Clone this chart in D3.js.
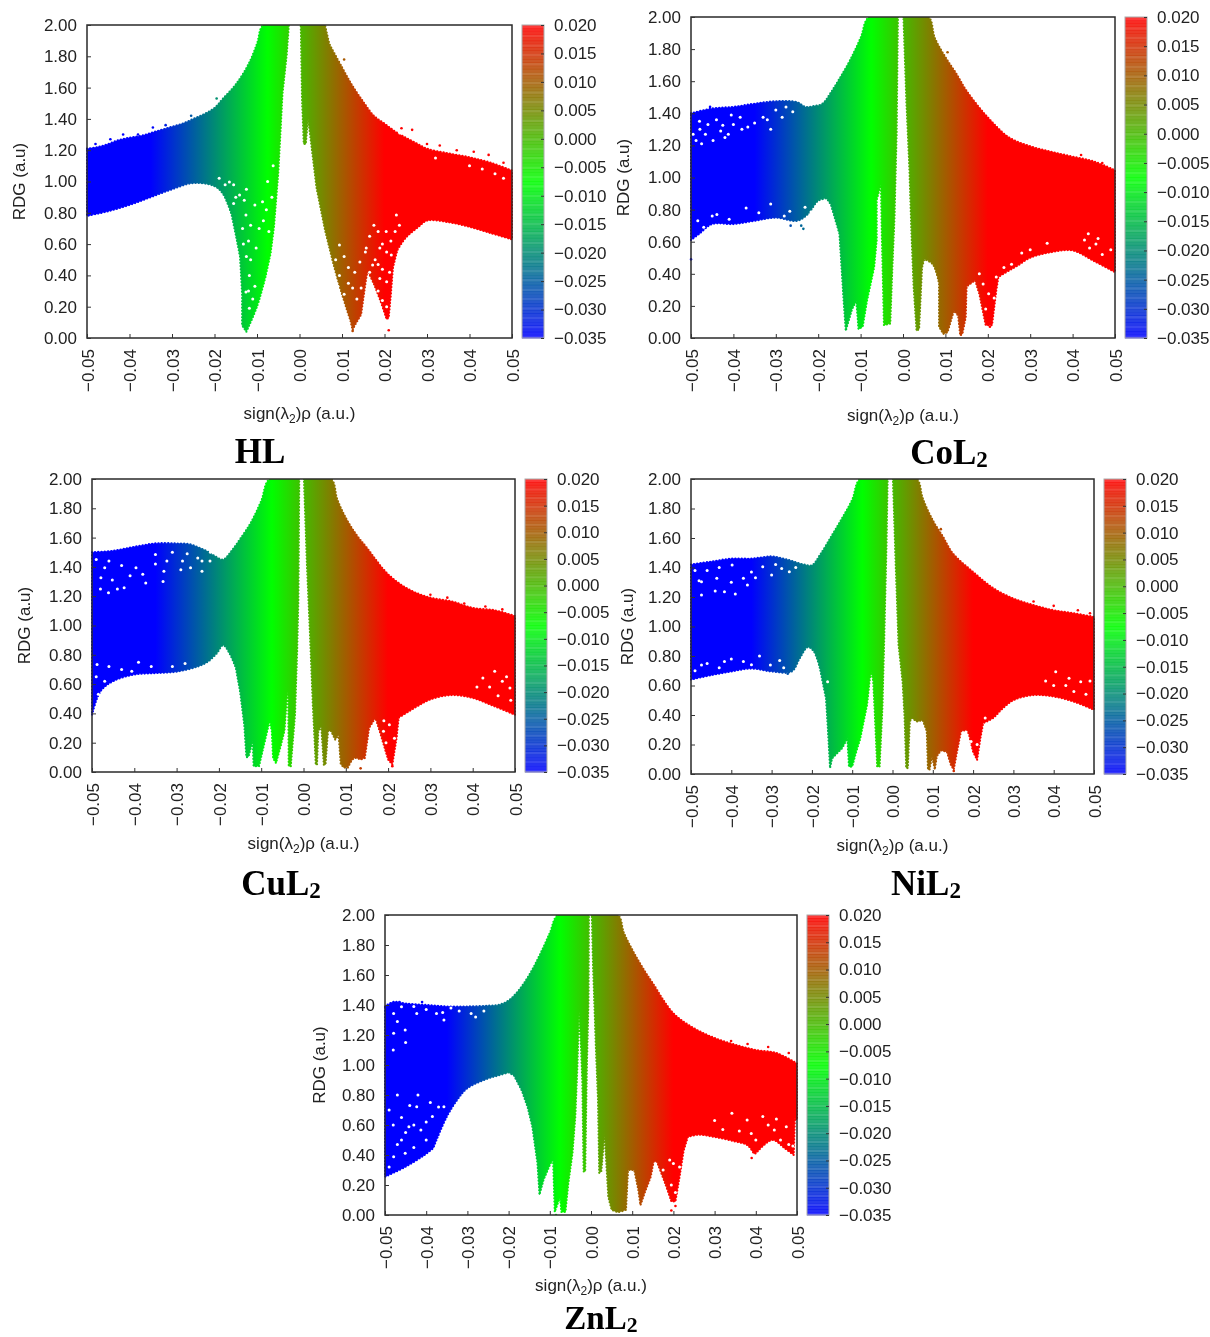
<!DOCTYPE html>
<html><head><meta charset="utf-8">
<script src="https://cdnjs.cloudflare.com/ajax/libs/d3/7.8.5/d3.min.js"></script>
<style>html,body{margin:0;padding:0;background:#fff}svg{display:block;filter:blur(.35px)}
text{fill:#222;font-family:"Liberation Sans",Arial,sans-serif}
.ttl{font-family:"Liberation Serif","Times New Roman",serif;font-weight:700;fill:#000}
</style></head><body><svg id="c" width="1210" height="1337"></svg>
<script>
const xTicks=[-0.05,-0.04,-0.03,-0.02,-0.01,0,0.01,0.02,0.03,0.04,0.05];
const yTicks=[0,0.2,0.4,0.6,0.8,1,1.2,1.4,1.6,1.8,2];
const barTicks=[-0.035,-0.03,-0.025,-0.02,-0.015,-0.01,-0.005,0,0.005,0.01,0.015,0.02];
const colorDomain=[-0.035,-0.0075,0.02];
const colorRange=["#0000ff","#00ff00","#ff0000"];

const hlLeft=[[-0.05,1.21],[-0.0475,1.22],[-0.045,1.24],[-0.0425,1.265],[-0.04,1.28],[-0.0375,1.29],[-0.035,1.31],[-0.0325,1.33],[-0.03,1.35],[-0.0275,1.37],[-0.025,1.40],[-0.0225,1.43],[-0.02,1.47],[-0.018,1.53],[-0.015,1.62],[-0.012,1.75],[-0.01,1.88],[-0.0085,2],[-0.0025,2],[-0.003,1.81],[-0.004,1.56],[-0.0045,1.30],[-0.005,1.05],[-0.0055,0.88],[-0.006,0.71],[-0.0068,0.54],[-0.008,0.39],[-0.01,0.2],[-0.0125,0.04],[-0.0135,0.08],[-0.0135,0.28],[-0.014,0.52],[-0.015,0.66],[-0.016,0.79],[-0.018,0.92],[-0.02,0.97],[-0.025,0.99],[-0.03,0.95],[-0.035,0.90],[-0.04,0.85],[-0.045,0.81],[-0.05,0.78]];
const hlRight=[[0.0003,2],[0.006,2],[0.007,1.88],[0.01,1.73],[0.0125,1.61],[0.015,1.51],[0.0175,1.42],[0.02,1.37],[0.0225,1.32],[0.025,1.28],[0.0275,1.245],[0.03,1.21],[0.035,1.18],[0.04,1.155],[0.045,1.12],[0.05,1.07],[0.05,0.63],[0.045,0.67],[0.04,0.71],[0.035,0.74],[0.03,0.75],[0.028,0.71],[0.025,0.64],[0.023,0.56],[0.022,0.45],[0.0215,0.28],[0.021,0.13],[0.0205,0.12],[0.019,0.24],[0.0175,0.345],[0.016,0.43],[0.0155,0.345],[0.0145,0.15],[0.013,0.08],[0.0125,0.05],[0.012,0.11],[0.01,0.28],[0.008,0.47],[0.006,0.69],[0.004,0.96],[0.002,1.41],[0.0015,1.24],[0.001,1.24],[0.0006,1.52]];
const hlHoles=[[0.0094,0.594],[0.0094,0.40],[0.0204,0.68],[0.0189,0.575],[0.0172,0.466],[0.0216,0.53],[0.0189,0.38],[0.0157,0.575],[0.0125,0.32],[0.0142,0.485],[0.0228,0.786],[0.0236,1.31],[-0.0126,0.786],[-0.0141,0.914],[-0.0102,0.575],[-0.0118,0.40],[-0.0134,0.70],[-0.0087,0.87],[-0.0165,0.997],[-0.0189,1.02],[-0.0126,0.294],[-0.0118,0.19],[0.043,1.08],[0.046,1.05],[0.048,1.02],[0.04,1.1],[0.032,1.15],[0.0085,0.5],[0.0105,0.52],[0.0115,0.45],[0.009,0.33],[0.0105,0.28],[0.0115,0.35],[0.013,0.42],[0.0135,0.25],[0.0145,0.32],[0.0155,0.55],[0.0165,0.65],[0.0175,0.72],[0.0185,0.68],[0.0195,0.6],[0.0205,0.55],[0.0215,0.62],[0.0178,0.5],[0.0165,0.42],[0.0185,0.3],[0.0195,0.44],[0.0205,0.36],[0.0212,0.42],[0.0195,0.24],[0.0205,0.2],[0.0185,0.47],[0.0225,0.68],[0.0235,0.72],[-0.012,0.62],[-0.0115,0.5],[-0.0125,0.52],[-0.0105,0.33],[-0.011,0.25],[-0.012,0.3],[-0.0132,0.6],[-0.0115,0.72],[-0.0095,0.7],[-0.0085,0.75],[-0.0078,0.82],[-0.0072,0.68],[-0.0065,0.9],[-0.0105,0.85],[-0.013,0.88],[-0.015,0.9],[-0.0155,0.86],[-0.0175,0.98],[-0.0155,0.98],[-0.0125,0.95],[-0.0075,1.0],[-0.0062,1.1]];
const hlStrays=[[-0.048,1.24],[-0.0445,1.27],[-0.0415,1.3],[-0.038,1.3],[-0.0345,1.345],[-0.0315,1.36],[-0.0255,1.42],[-0.0195,1.53],[0.024,1.34],[0.0265,1.33],[0.03,1.24],[0.033,1.23],[0.037,1.2],[0.041,1.19],[0.0445,1.17],[0.048,1.12],[0.0105,1.78],[0.0125,0.045],[0.021,0.05]];

const coLeft=[[-0.05,1.40],[-0.045,1.43],[-0.04,1.44],[-0.035,1.46],[-0.03,1.475],[-0.025,1.47],[-0.023,1.44],[-0.021,1.445],[-0.019,1.46],[-0.017,1.53],[-0.015,1.615],[-0.0125,1.73],[-0.01,1.87],[-0.008,2],[-0.0012,2],[-0.0015,1.27],[-0.002,0.75],[-0.0025,0.44],[-0.003,0.09],[-0.0045,0.08],[-0.005,0.65],[-0.0052,0.96],[-0.0062,0.86],[-0.0062,0.61],[-0.0068,0.44],[-0.0085,0.23],[-0.0095,0.07],[-0.0105,0.055],[-0.011,0.23],[-0.012,0.18],[-0.0135,0.045],[-0.014,0.23],[-0.0145,0.44],[-0.015,0.65],[-0.017,0.83],[-0.018,0.87],[-0.02,0.855],[-0.0225,0.77],[-0.025,0.73],[-0.03,0.75],[-0.035,0.73],[-0.04,0.71],[-0.045,0.71],[-0.048,0.65],[-0.05,0.61]];
const coRight=[[0.0001,2],[0.006,2],[0.0075,1.87],[0.01,1.75],[0.0125,1.65],[0.015,1.54],[0.02,1.375],[0.025,1.25],[0.03,1.195],[0.035,1.16],[0.04,1.13],[0.045,1.10],[0.05,1.045],[0.05,0.41],[0.045,0.48],[0.04,0.545],[0.035,0.535],[0.03,0.50],[0.027,0.45],[0.025,0.42],[0.0225,0.38],[0.022,0.295],[0.021,0.08],[0.0195,0.08],[0.018,0.275],[0.017,0.36],[0.015,0.32],[0.0148,0.13],[0.014,0.025],[0.0135,0.015],[0.013,0.14],[0.012,0.17],[0.0105,0.035],[0.0095,0.025],[0.0085,0.07],[0.0085,0.34],[0.007,0.46],[0.005,0.49],[0.0045,0.44],[0.0038,0.055],[0.0032,0.045],[0.0025,0.32],[0.002,0.65],[0.0015,1.06],[0.0008,1.47]];
const coHoles=[[-0.0479,1.30],[-0.0488,1.23],[-0.0466,1.27],[-0.0448,1.23],[-0.0425,1.325],[-0.0384,1.376],[-0.0366,1.314],[-0.033,1.376],[-0.0285,1.376],[-0.0312,1.30],[-0.0276,1.44],[-0.0412,1.27],[-0.0475,1.21],[-0.042,1.25],[-0.0484,0.73],[-0.0439,0.77],[-0.0312,0.835],[-0.0267,0.79],[-0.0231,0.815],[-0.0217,0.785],[0.0455,0.585],[0.0437,0.65],[0.0428,0.61],[0.0256,0.46],[0.0238,0.44],[0.0202,0.275],[0.0189,0.337],[-0.046,1.33],[-0.044,1.36],[-0.04,1.33],[-0.038,1.3],[-0.035,1.34],[-0.032,1.36],[-0.03,1.42],[-0.026,1.41],[-0.043,1.29],[-0.048,1.35],[-0.0495,1.27],[-0.0405,1.39],[-0.047,0.69],[-0.045,0.76],[-0.041,0.74],[-0.037,0.81],[-0.034,0.78],[-0.028,0.76],[0.03,0.55],[0.028,0.53],[0.034,0.59],[0.047,0.52],[0.046,0.62],[0.049,0.55],[0.044,0.56],[0.022,0.38],[0.0215,0.25],[0.0195,0.18],[0.018,0.4]];
const coStrays=[[-0.05,0.49],[-0.0455,1.44],[-0.024,0.7],[-0.0235,0.68],[-0.0265,0.7],[0.0105,1.78],[0.042,1.14],[0.047,1.09],[0.0205,0.07]];

const cuLeft=[[-0.05,1.50],[-0.045,1.51],[-0.04,1.537],[-0.035,1.56],[-0.03,1.56],[-0.027,1.555],[-0.025,1.535],[-0.023,1.51],[-0.021,1.475],[-0.019,1.45],[-0.017,1.51],[-0.015,1.59],[-0.0125,1.70],[-0.01,1.85],[-0.008,2],[-0.001,2],[-0.0012,1.19],[-0.0015,0.82],[-0.002,0.39],[-0.003,0.04],[-0.0035,0.04],[-0.0036,0.505],[-0.0038,0.55],[-0.0045,0.28],[-0.0055,0.165],[-0.0065,0.06],[-0.0072,0.095],[-0.0075,0.28],[-0.008,0.35],[-0.0095,0.165],[-0.0105,0.04],[-0.0118,0.04],[-0.012,0.21],[-0.013,0.105],[-0.0135,0.10],[-0.014,0.32],[-0.015,0.55],[-0.016,0.71],[-0.0175,0.81],[-0.019,0.865],[-0.0205,0.81],[-0.0225,0.755],[-0.025,0.72],[-0.03,0.685],[-0.035,0.675],[-0.04,0.665],[-0.045,0.62],[-0.048,0.55],[-0.05,0.39]];
const cuRight=[[0.0001,2],[0.0065,2],[0.008,1.86],[0.01,1.735],[0.0125,1.62],[0.015,1.53],[0.02,1.35],[0.025,1.245],[0.03,1.19],[0.035,1.165],[0.04,1.12],[0.045,1.105],[0.05,1.065],[0.05,0.39],[0.045,0.45],[0.04,0.505],[0.035,0.525],[0.03,0.495],[0.027,0.45],[0.025,0.415],[0.0225,0.37],[0.022,0.23],[0.021,0.05],[0.02,0.085],[0.018,0.28],[0.017,0.37],[0.0155,0.30],[0.0145,0.095],[0.0135,0.085],[0.012,0.095],[0.0105,0.03],[0.0095,0.03],[0.0088,0.055],[0.0083,0.255],[0.0075,0.22],[0.0065,0.28],[0.0058,0.28],[0.0052,0.05],[0.0048,0.05],[0.0042,0.31],[0.0035,0.28],[0.0032,0.05],[0.0029,0.05],[0.0022,0.46],[0.0015,0.96],[0.0008,1.42]];
const cuHoles=[[-0.047,1.394],[-0.0452,1.31],[-0.0479,1.326],[-0.0424,1.257],[-0.0461,1.223],[-0.0373,1.29],[-0.035,1.485],[-0.0323,1.44],[-0.0286,1.44],[-0.0267,1.394],[-0.024,1.44],[-0.0221,1.44],[-0.0396,1.394],[-0.0332,1.30],[-0.0488,0.733],[-0.047,0.62],[-0.0406,0.688],[0.047,0.62],[0.0452,0.688],[0.0488,0.574],[0.0424,0.642],[0.0189,0.278],[0.0203,0.323],[-0.049,1.45],[-0.046,1.44],[-0.043,1.41],[-0.041,1.34],[-0.038,1.35],[-0.035,1.42],[-0.033,1.37],[-0.031,1.5],[-0.029,1.38],[-0.0275,1.49],[-0.025,1.46],[-0.024,1.37],[-0.022,1.5],[-0.02,1.48],[-0.044,1.25],[-0.048,1.25],[-0.049,0.65],[-0.0485,0.53],[-0.046,0.72],[-0.043,0.7],[-0.039,0.75],[-0.036,0.72],[-0.031,0.72],[-0.028,0.74],[0.044,0.58],[0.049,0.49],[0.046,0.52],[0.048,0.65],[0.041,0.58],[0.0215,0.23],[0.0195,0.2],[0.019,0.35]];
const cuStrays=[[0.0135,0.025],[0.021,0.04],[0.03,1.21],[0.034,1.19],[0.038,1.15],[0.043,1.13],[0.047,1.11]];

const niLeft=[[-0.05,1.42],[-0.045,1.44],[-0.04,1.46],[-0.035,1.46],[-0.03,1.475],[-0.027,1.46],[-0.025,1.445],[-0.022,1.42],[-0.02,1.415],[-0.018,1.485],[-0.015,1.62],[-0.0125,1.735],[-0.01,1.86],[-0.008,2],[-0.0012,2],[-0.0015,1.53],[-0.002,0.965],[-0.0025,0.445],[-0.0032,0.05],[-0.0038,0.05],[-0.0045,0.47],[-0.0048,0.63],[-0.0052,0.69],[-0.0056,0.65],[-0.0063,0.47],[-0.008,0.24],[-0.009,0.15],[-0.01,0.05],[-0.0108,0.05],[-0.0112,0.24],[-0.0125,0.175],[-0.015,0.105],[-0.0155,0.04],[-0.016,0.29],[-0.0165,0.51],[-0.018,0.715],[-0.0195,0.83],[-0.021,0.86],[-0.023,0.785],[-0.025,0.695],[-0.03,0.695],[-0.035,0.715],[-0.04,0.695],[-0.045,0.67],[-0.05,0.64]];
const niRight=[[0.0001,2],[0.006,2],[0.0075,1.87],[0.01,1.72],[0.0125,1.61],[0.015,1.495],[0.02,1.37],[0.025,1.26],[0.03,1.19],[0.035,1.145],[0.04,1.11],[0.045,1.09],[0.05,1.065],[0.05,0.435],[0.045,0.49],[0.04,0.525],[0.035,0.535],[0.03,0.50],[0.027,0.435],[0.025,0.38],[0.0225,0.345],[0.0218,0.24],[0.021,0.095],[0.02,0.15],[0.019,0.265],[0.0185,0.30],[0.017,0.29],[0.016,0.15],[0.0152,0.03],[0.0145,0.06],[0.0135,0.15],[0.012,0.16],[0.011,0.12],[0.0105,0.03],[0.0098,0.12],[0.0092,0.03],[0.0088,0.03],[0.0085,0.29],[0.0075,0.365],[0.006,0.355],[0.0048,0.38],[0.0043,0.355],[0.0038,0.04],[0.0034,0.04],[0.003,0.38],[0.0025,0.625],[0.0015,0.875],[0.0008,1.41]];
const niHoles=[[-0.0474,1.304],[-0.0436,1.327],[-0.0398,1.417],[-0.037,1.327],[-0.0322,1.405],[-0.0275,1.394],[-0.0256,1.372],[-0.0474,1.214],[-0.0417,1.236],[-0.036,1.281],[-0.0474,0.739],[-0.0417,0.762],[-0.037,0.762],[-0.0303,0.739],[0.0405,0.694],[0.0467,0.626],[0.0438,0.649],[-0.0161,0.626],[-0.049,1.38],[-0.046,1.38],[-0.044,1.24],[-0.043,1.4],[-0.04,1.3],[-0.039,1.22],[-0.035,1.37],[-0.034,1.33],[-0.03,1.35],[-0.029,1.42],[-0.024,1.4],[-0.048,1.31],[-0.049,0.7],[-0.046,0.75],[-0.043,0.72],[-0.04,0.78],[-0.035,0.74],[-0.033,0.8],[-0.028,0.77],[-0.027,0.72],[0.043,0.6],[0.045,0.56],[0.048,0.54],[0.049,0.63],[0.04,0.6],[0.038,0.63],[0.023,0.38],[0.021,0.2],[0.0195,0.22]];
const niStrays=[[0.0152,0.02],[0.035,1.17],[0.04,1.14],[0.046,1.11],[0.049,1.09],[-0.026,0.68],[0.012,1.66]];

const znLeft=[[-0.05,1.39],[-0.048,1.42],[-0.045,1.41],[-0.04,1.40],[-0.035,1.39],[-0.03,1.39],[-0.025,1.395],[-0.0225,1.40],[-0.02,1.43],[-0.0175,1.50],[-0.015,1.60],[-0.0125,1.73],[-0.01,1.88],[-0.008,2],[-0.0005,2],[-0.0006,1.43],[-0.001,0.985],[-0.0014,0.29],[-0.0018,0.29],[-0.0021,0.88],[-0.0024,1.10],[-0.0029,1.355],[-0.0033,0.99],[-0.0038,0.655],[-0.0045,0.41],[-0.0055,0.21],[-0.0062,0.02],[-0.0072,0.02],[-0.0075,0.12],[-0.0088,0.02],[-0.0092,0.365],[-0.0098,0.345],[-0.0115,0.235],[-0.0125,0.135],[-0.013,0.345],[-0.01425,0.59],[-0.0154,0.72],[-0.0168,0.83],[-0.0187,0.93],[-0.02,0.95],[-0.0225,0.93],[-0.025,0.91],[-0.03,0.845],[-0.0324,0.77],[-0.035,0.655],[-0.0375,0.50],[-0.0383,0.445],[-0.0404,0.40],[-0.0451,0.32],[-0.05,0.255]];
const znRight=[[0.0002,2],[0.0065,2],[0.008,1.88],[0.01,1.77],[0.0125,1.65],[0.015,1.545],[0.02,1.345],[0.025,1.245],[0.03,1.18],[0.035,1.135],[0.04,1.10],[0.045,1.08],[0.05,1.01],[0.05,0.635],[0.0495,0.645],[0.0492,0.40],[0.047,0.445],[0.044,0.50],[0.04,0.41],[0.0395,0.41],[0.038,0.465],[0.035,0.49],[0.03,0.52],[0.026,0.535],[0.0235,0.52],[0.0225,0.43],[0.0215,0.255],[0.0205,0.09],[0.0195,0.09],[0.018,0.21],[0.016,0.355],[0.0152,0.355],[0.0145,0.255],[0.013,0.145],[0.012,0.065],[0.0115,0.165],[0.0105,0.30],[0.009,0.30],[0.0085,0.035],[0.0065,0.02],[0.005,0.035],[0.0042,0.12],[0.0033,0.54],[0.0025,0.29],[0.002,0.28],[0.0017,0.765],[0.0012,1.10],[0.0005,1.655]];
const znHoles=[[-0.0479,1.344],[-0.046,1.389],[-0.0423,1.344],[-0.0375,1.344],[-0.0357,1.30],[-0.0291,1.344],[-0.0479,1.211],[-0.0451,1.233],[-0.0423,0.722],[-0.0385,0.656],[-0.046,0.50],[-0.0479,0.389],[-0.0451,0.411],[-0.0413,0.567],[-0.0442,0.589],[-0.0357,0.722],[0.0379,0.633],[0.0417,0.656],[0.0445,0.567],[0.0389,0.544],[0.0474,0.589],[0.02,0.344],[0.0191,0.367],[0.0342,0.678],[-0.047,1.29],[-0.043,1.39],[-0.04,1.37],[-0.036,1.35],[-0.034,1.38],[-0.032,1.36],[-0.028,1.32],[-0.026,1.36],[-0.048,1.1],[-0.045,1.15],[-0.049,0.7],[-0.048,0.6],[-0.047,0.8],[-0.046,0.65],[-0.045,0.55],[-0.044,0.73],[-0.043,0.6],[-0.043,0.45],[-0.042,0.8],[-0.04,0.62],[-0.04,0.5],[-0.039,0.75],[-0.037,0.72],[-0.047,0.47],[-0.049,0.32],[0.036,0.56],[0.04,0.5],[0.043,0.6],[0.046,0.5],[0.048,0.47],[0.049,0.46],[0.045,0.64],[0.03,0.63],[0.032,0.57],[0.0215,0.32],[0.0195,0.2],[0.0205,0.15],[0.0175,0.3]];
const znStrays=[[0.0195,0.03],[-0.0085,0.0],[0.039,0.38],[0.0205,0.06],[0.034,1.16],[0.038,1.14],[0.043,1.12],[0.048,1.08],[-0.0465,1.42],[-0.041,1.42]];

const panels=[
 {id:"hl",name:"HL",sub:false,left:hlLeft,right:hlRight,holes:hlHoles,strays:hlStrays,x0:87,x1:512,y0:25,y1:338,barX:522,tx:260,ty:463,ts:35,xl:419,yl:19},
 {id:"co",name:"CoL",sub:true,left:coLeft,right:coRight,holes:coHoles,strays:coStrays,x0:691,x1:1115,y0:17,y1:338,barX:1125,tx:949,ty:464,ts:35,xl:421,yl:623},
 {id:"cu",name:"CuL",sub:true,left:cuLeft,right:cuRight,holes:cuHoles,strays:cuStrays,x0:92,x1:515,y0:479,y1:772,barX:525,tx:281,ty:895,ts:35,xl:849,yl:24},
 {id:"ni",name:"NiL",sub:true,left:niLeft,right:niRight,holes:niHoles,strays:niStrays,x0:691,x1:1094,y0:479,y1:774,barX:1104,tx:926,ty:895,ts:35,xl:851,yl:627},
 {id:"zn",name:"ZnL",sub:true,left:znLeft,right:znRight,holes:znHoles,strays:znStrays,x0:385,x1:797,y0:915,y1:1215,barX:807,tx:601,ty:1329,ts:33,xl:1291,yl:319}
];
const svg=d3.select("#c"), defs=svg.append("defs");
const col=d3.scaleLinear().domain(colorDomain).range(colorRange).clamp(true);
const fmt2=d3.format(".2f"),fmt3=d3.format(".3f");

// Outline path: gently sloped runs of an outline get a smooth curve, spikes stay straight.
function outline(poly,x,y){
 const curved=d3.line().x(d=>x(d[0])).y(d=>y(d[1])).curve(d3.curveCatmullRom.alpha(0.5));
 let s="M"+x(poly[0][0])+","+y(poly[0][1]),i=0;
 const gentle=(a,b)=>{const dx=Math.abs(b[0]-a[0]);return dx>=0.0014&&Math.abs(b[1]-a[1])/dx<100;};
 while(i<poly.length-1){
  let j=i;
  const dir=Math.sign(poly[i+1][0]-poly[i][0]);
  while(j<poly.length-1&&gentle(poly[j],poly[j+1])&&Math.sign(poly[j+1][0]-poly[j][0])===dir)j++;
  if(j>i+1){s+="L"+curved(poly.slice(i,j+1)).slice(1);i=j;}
  else{s+="L"+x(poly[i+1][0])+","+y(poly[i+1][1]);i++;}
 }
 return s+"Z";
}

panels.forEach(p=>{
 const x=d3.scaleLinear().domain([-0.05,0.05]).range([p.x0,p.x1]);
 const y=d3.scaleLinear().domain([0,2]).range([p.y1,p.y0]);
 const cb=d3.scaleLinear().domain([-0.035,0.02]).range([p.y1,p.y0]);
 const grad=defs.append("linearGradient").attr("id","g"+p.id).attr("gradientUnits","userSpaceOnUse")
   .attr("x1",x(colorDomain[0])).attr("x2",x(colorDomain[2])).attr("y1",0).attr("y2",0);
 colorDomain.forEach((d,i)=>grad.append("stop").attr("offset",(d-colorDomain[0])/(colorDomain[2]-colorDomain[0])).attr("stop-color",colorRange[i]));
 defs.append("clipPath").attr("id","cp"+p.id).append("rect").attr("x",p.x0-1.5).attr("y",p.y0).attr("width",p.x1-p.x0+3).attr("height",p.y1-p.y0);
 const g=svg.append("g");
 const cloud=g.append("g").attr("clip-path",`url(#cp${p.id})`);
 [p.left,p.right].forEach(poly=>{
  const d=outline(poly,x,y);
  cloud.append("path").attr("d",d).attr("fill",`url(#g${p.id})`).attr("stroke",`url(#g${p.id})`).attr("stroke-width",0.5);
  cloud.append("path").attr("d",d).attr("fill","none").attr("stroke",`url(#g${p.id})`).attr("stroke-width",2.2).attr("stroke-linecap","round").attr("stroke-dasharray","0 3.2");
 });
 cloud.selectAll(".h").data(p.holes).join("circle").attr("class","h").attr("cx",d=>x(d[0])).attr("cy",d=>y(d[1])).attr("r",1.5).attr("fill","#fff");
 cloud.selectAll(".st").data(p.strays).join("circle").attr("class","st").attr("cx",d=>x(d[0])).attr("cy",d=>y(d[1])).attr("r",1.3).attr("fill",d=>col(d[0]));
 g.append("rect").attr("x",p.x0).attr("y",p.y0).attr("width",p.x1-p.x0).attr("height",p.y1-p.y0).attr("fill","none").attr("stroke","#2a2a2a").attr("stroke-width",1.5);
 const ax=g.append("g").attr("transform",`translate(0,${p.y1})`).call(d3.axisBottom(x).tickValues(xTicks).tickSize(-4).tickPadding(10).tickFormat(fmt2));
 ax.select(".domain").remove();
 ax.selectAll("text").attr("font-size",17).attr("transform","rotate(-90)").attr("text-anchor","end").attr("x",-11).attr("y",0).attr("dy",".36em").style("font-family",'"Liberation Sans"');
 ax.selectAll("line").attr("stroke","#333");
 const ay=g.append("g").attr("transform",`translate(${p.x0},0)`).call(d3.axisLeft(y).tickValues(yTicks).tickSize(-4).tickPadding(10).tickFormat(fmt2));
 ay.select(".domain").remove();
 ay.selectAll("text").attr("font-size",17).style("font-family",'"Liberation Sans"');
 ay.selectAll("line").attr("stroke","#333");
 const bw=22,steps=d3.range(0,100);
 g.selectAll(".s").data(steps).join("rect").attr("class","s").attr("x",p.barX)
  .attr("y",i=>cb(-0.035+0.055*(i+1)/100)).attr("width",bw)
  .attr("height",(p.y1-p.y0)/100+0.5)
  .attr("fill",i=>col(-0.035+0.055*(i+.5)/100)).attr("fill-opacity",i=>i%3==0?0.78:0.85);
 g.append("rect").attr("x",p.barX).attr("y",p.y0).attr("width",bw).attr("height",p.y1-p.y0).attr("fill","none").attr("stroke","#aaa").attr("stroke-width",1);
 const ac=g.append("g").attr("transform",`translate(${p.barX+bw},0)`).call(d3.axisRight(cb).tickValues(barTicks).tickSize(-3).tickPadding(10).tickFormat(fmt3));
 ac.select(".domain").remove();
 ac.selectAll("text").attr("font-size",17).style("font-family",'"Liberation Sans"');
 ac.selectAll("line").attr("stroke","#333");
 const xlab=g.append("text").attr("x",(p.x0+p.x1)/2).attr("y",p.xl).attr("text-anchor","middle").attr("font-size",17);
 xlab.append("tspan").text("sign(λ");
 xlab.append("tspan").text("2").attr("font-size",12).attr("dy",4);
 xlab.append("tspan").text(")ρ (a.u.)").attr("dy",-4);
 g.append("text").attr("transform",`translate(${p.yl},${(p.y0+p.y1)/2}) rotate(-90)`).attr("text-anchor","middle").attr("dy",".36em").attr("font-size",17).text("RDG (a.u)");
 const t=g.append("text").attr("class","ttl").attr("x",p.tx).attr("y",p.ty).attr("text-anchor","middle").attr("font-size",p.ts);
 t.append("tspan").text(p.name);
 if(p.sub) t.append("tspan").text("2").attr("font-size",p.ts*0.66).attr("dy",3);
});
</script></body></html>
